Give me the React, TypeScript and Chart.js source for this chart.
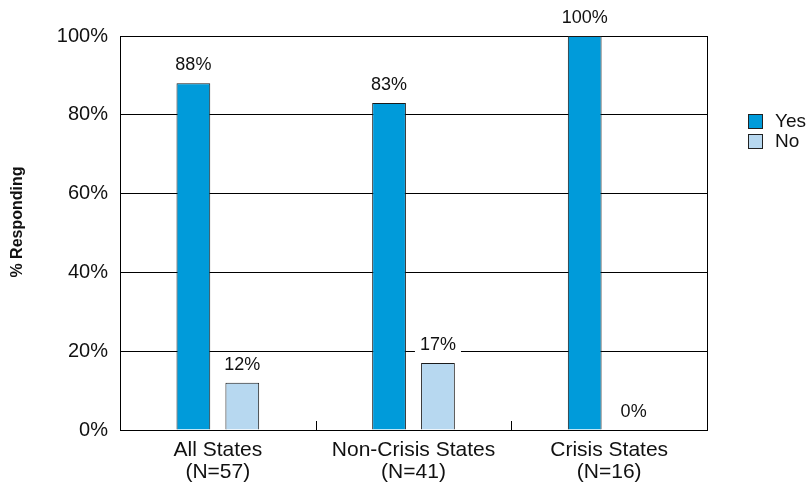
import React, { useEffect, useRef } from "react";
import { Chart, registerables } from "chart.js";

Chart.register(...registerables);

const categories: string[][] = [
  ["All States", "(N=57)"],
  ["Non-Crisis States", "(N=41)"],
  ["Crisis States", "(N=16)"],
];
const yesValues = [88, 83, 100];
const noValues = [12, 17, 0];
const seriesNames = ["Yes", "No"];
const yTicks = [0, 20, 40, 60, 80, 100];
const yTitle = "% Responding";

const YES_COLOR = "#009BDA";
const NO_COLOR = "#B7D8F0";
const FONT = "'Liberation Sans', Arial, sans-serif";

const extrasPlugin = {
  id: "extras",
  afterDatasetsDraw(chart: any) {
    const { ctx, chartArea } = chart;
    ctx.save();
    // right border
    ctx.strokeStyle = "#000";
    ctx.lineWidth = 1;
    ctx.beginPath();
    ctx.moveTo(Math.round(chartArea.right) + 0.5, chartArea.top);
    ctx.lineTo(Math.round(chartArea.right) + 0.5, chartArea.bottom);
    ctx.stroke();
    // category boundary ticks on x axis
    const xs = chart.scales.x;
    for (let i = 1; i < categories.length; i++) {
      const x = (xs.getPixelForValue(i - 1) + xs.getPixelForValue(i)) / 2;
      ctx.beginPath();
      ctx.moveTo(Math.round(x) + 0.5, chartArea.bottom);
      ctx.lineTo(Math.round(x) + 0.5, chartArea.bottom - 9);
      ctx.stroke();
    }
    // data labels
    ctx.font = `18px ${FONT}`;
    ctx.textAlign = "center";
    ctx.textBaseline = "middle";
    chart.data.datasets.forEach((ds: any, di: number) => {
      const meta = chart.getDatasetMeta(di);
      meta.data.forEach((bar: any, i: number) => {
        const text = `${ds.data[i]}%`;
        const cx = bar.x;
        const cy = bar.y - 19;
        const w = ctx.measureText(text).width + 10;
        ctx.fillStyle = "#fff";
        ctx.fillRect(cx - w / 2, cy - 10, w, 20);
        ctx.fillStyle = "#111";
        ctx.fillText(text, cx, cy + 1);
      });
    });
    // legend
    const lx = 748;
    const ly = [121, 141];
    const colors = [YES_COLOR, NO_COLOR];
    ctx.font = `19px ${FONT}`;
    ctx.textAlign = "left";
    seriesNames.forEach((name, i) => {
      ctx.fillStyle = colors[i];
      ctx.fillRect(lx, ly[i] - 7, 15, 15);
      ctx.strokeStyle = "#222";
      ctx.lineWidth = 1;
      ctx.strokeRect(lx + 0.5, ly[i] - 6.5, 14, 14);
      ctx.fillStyle = "#111";
      ctx.fillText(name, lx + 27, ly[i] + 1);
    });
    // y axis title
    ctx.save();
    ctx.translate(18, 222);
    ctx.rotate(-Math.PI / 2);
    ctx.font = `bold 16px ${FONT}`;
    ctx.textAlign = "center";
    ctx.textBaseline = "middle";
    ctx.fillStyle = "#111";
    ctx.fillText(yTitle, 0, 0);
    ctx.restore();
    ctx.restore();
  },
};

export default function App() {
  const ref = useRef<HTMLCanvasElement | null>(null);
  useEffect(() => {
    if (!ref.current) return;
    const chart = new Chart(ref.current, {
      type: "bar",
      data: {
        labels: categories,
        datasets: [
          {
            label: seriesNames[0],
            data: yesValues,
            backgroundColor: YES_COLOR,
            borderColor: "#1a1a1a",
            borderWidth: 1,
            categoryPercentage: 0.5,
            barPercentage: 0.69,
          },
          {
            label: seriesNames[1],
            data: noValues,
            backgroundColor: NO_COLOR,
            borderColor: "#1a1a1a",
            borderWidth: 1,
            categoryPercentage: 0.5,
            barPercentage: 0.69,
          },
        ],
      },
      options: {
        animation: false,
        responsive: false,
        maintainAspectRatio: false,
        layout: { padding: { top: 36, right: 102, left: 0, bottom: 0 } },
        plugins: {
          legend: { display: false },
          tooltip: { enabled: false },
        },
        scales: {
          x: {
            grid: { display: false, drawTicks: false },
            border: { display: true, color: "#000", width: 1 },
            ticks: {
              color: "#111",
              font: { family: FONT, size: 21, lineHeight: 1.05 },
              padding: 9,
              maxRotation: 0,
              autoSkip: false,
            },
            afterFit: (s: any) => {
              s.height = 60;
            },
          },
          y: {
            min: 0,
            max: 100,
            afterBuildTicks: (s: any) => {
              s.ticks = yTicks.map((v) => ({ value: v }));
            },
            grid: { color: "#000", lineWidth: 1, drawTicks: false },
            border: { display: true, color: "#000", width: 1 },
            ticks: {
              color: "#111",
              font: { family: FONT, size: 20 },
              padding: 12,
              callback: (v: any) => `${v}%`,
            },
            afterFit: (s: any) => {
              s.width = 120;
            },
          },
        },
      },
      plugins: [extrasPlugin],
    });
    return () => chart.destroy();
  }, []);
  return (
    <div style={{ position: "fixed", left: 0, top: 0, width: 809, height: 490, background: "#fff" }}>
      <canvas ref={ref} width={809} height={490} style={{ width: 809, height: 490 }} />
    </div>
  );
}
